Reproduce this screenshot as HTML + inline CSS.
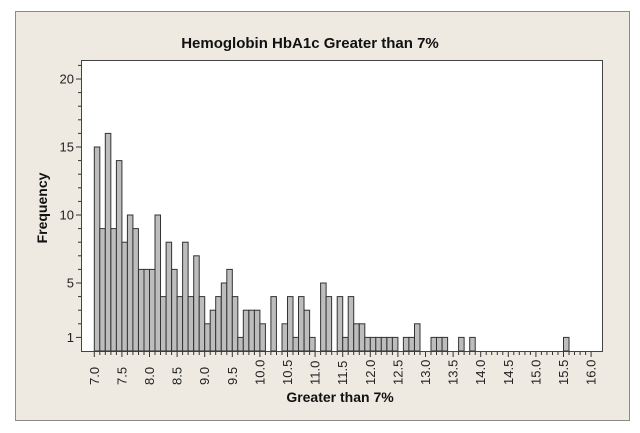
<!DOCTYPE html>
<html><head><meta charset="utf-8"><style>
body{margin:0;background:#fff;width:640px;height:433px;overflow:hidden}
svg{display:block;font-family:"Liberation Sans","DejaVu Sans",sans-serif}
</style></head><body>
<svg id="s" width="640" height="433" xmlns="http://www.w3.org/2000/svg">
<rect x="15.5" y="11.5" width="614" height="409" fill="#eeeae1" stroke="#8a8a8a"/>
<rect x="81.5" y="60.5" width="521" height="291" fill="#fff" stroke="#444"/>
<text x="310" y="48" text-anchor="middle" font-size="15" font-weight="bold" fill="#111">Hemoglobin HbA1c Greater than 7%</text>
<text x="340" y="402" text-anchor="middle" font-size="14" font-weight="bold" fill="#111">Greater than 7%</text>
<text transform="translate(47,208) rotate(-90)" text-anchor="middle" font-size="14" font-weight="bold" fill="#111">Frequency</text>
<g id="g"></g>
</svg>
<script>
var h=[15,9,16,9,14,8,10,9,6,6,6,10,4,8,6,4,8,4,7,4,2,3,4,5,6,4,1,3,3,3,2,0,4,0,2,4,1,4,3,1,0,5,4,0,4,1,4,2,2,1,1,1,1,1,1,0,1,1,2,0,0,1,1,1,0,0,1,0,1];
while(h.length<85)h.push(0);h.push(1);
var g=document.getElementById('g'),o='';
var x0=94.3,w=5.52,y0=351,u=13.6;
for(var i=0;i<h.length;i++){if(!h[i])continue;var x=x0+i*w,hh=h[i]*u;
o+='<rect x="'+x.toFixed(1)+'" y="'+(y0-hh).toFixed(1)+'" width="'+w+'" height="'+hh.toFixed(1)+'" fill="#bdbdbd" stroke="#333" stroke-width="1"/>';}
for(var k=0;k<=90;k++){var x=x0+k*w,L=(k%5==0)?5:3;
o+='<line x1="'+x.toFixed(1)+'" y1="352" x2="'+x.toFixed(1)+'" y2="'+(352+L)+'" stroke="#333"/>';
if(k%5==0){o+='<text transform="translate('+(x+4.5).toFixed(1)+',385) rotate(-90)" font-size="13" fill="#222">'+(7+k/10).toFixed(1)+'</text>';}}
for(var v=1;v<=21;v++){var y=y0-v*u,L=(v==1||v%5==0)?5:3;
o+='<line x1="81" y1="'+y.toFixed(1)+'" x2="'+(81-L)+'" y2="'+y.toFixed(1)+'" stroke="#333"/>';
if(v==1||v%5==0)o+='<text x="74" y="'+(y+4.5).toFixed(1)+'" text-anchor="end" font-size="13" fill="#222">'+v+'</text>';}
g.innerHTML=o;
</script>
</body></html>
